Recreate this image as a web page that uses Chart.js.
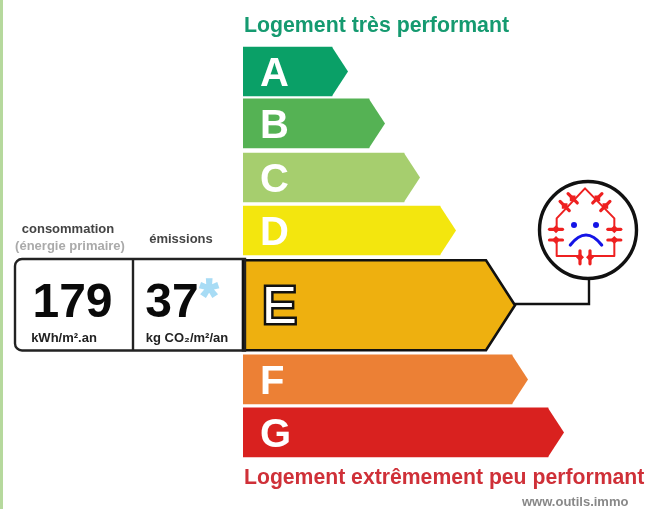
<!DOCTYPE html>
<html><head><meta charset="utf-8">
<style>html,body{margin:0;padding:0;background:#fff}canvas{display:block;filter:blur(0.7px)}</style>
<script src="https://cdn.jsdelivr.net/npm/chart.js@4"></script>
</head><body><canvas id="c" width="645" height="509"></canvas>
<script>
const classLetters = ["A","B","C","D","F","G"];
const classRows = [1,1.98,3,4,6.81,7.81];
const classLengths = [89,126,161,197,269,305];
const classColors = ["#0aa067","#55b254","#a6ce6e","#f3e60e","#ec8035","#d9211f"];
const currentLetter = ["E"];
const currentRow = [5.41];
const currentLength = [243];
const currentColor = "#eeb00f";
const consumption = "179";
const emissions = "37";
const topCaption = "Logement très performant";
const bottomCaption = "Logement extrêmement peu performant";
const FONT = '"Liberation Sans", Arial, sans-serif';

function text(ctx,s,x,y,font,color,align){
  ctx.font=font;ctx.fillStyle=color;ctx.textAlign=align||"center";ctx.textBaseline="alphabetic";ctx.fillText(s,x,y);
}
function arrow(ctx,el,tip){
  const t=el.y-el.height/2,b=el.y+el.height/2,l=el.base;
  ctx.beginPath();ctx.moveTo(l,t);ctx.lineTo(el.x,t);ctx.lineTo(el.x+tip,el.y);ctx.lineTo(el.x,b);ctx.lineTo(l,b);ctx.closePath();
}
function icon(ctx){
  const X=v=>480+v/3,Y=v=>170+v/3;
  ctx.save();
  ctx.lineCap="round";ctx.lineJoin="round";
  ctx.strokeStyle="#ee2020";ctx.fillStyle="#ee2020";ctx.lineWidth=2;
  const poly=p=>{ctx.beginPath();p.forEach((q,i)=>i?ctx.lineTo(X(q[0]),Y(q[1])):ctx.moveTo(X(q[0]),Y(q[1])));ctx.stroke();};
  poly([[230,178],[230,145],[315,55],[403,145],[403,178]]);
  poly([[230,210],[230,258],[300,258]]);
  poly([[330,258],[403,258],[403,210]]);
  const sym=(x,y,a)=>{
    ctx.save();ctx.translate(X(x),Y(y));ctx.rotate(a);
    ctx.lineWidth=3.2;ctx.beginPath();ctx.moveTo(-6.5,0);ctx.lineTo(6.5,0);ctx.stroke();
    ctx.beginPath();ctx.moveTo(-3,-1);ctx.lineTo(3,-1);ctx.lineTo(0,-4);ctx.closePath();ctx.fill();
    ctx.beginPath();ctx.moveTo(-3,1);ctx.lineTo(3,1);ctx.lineTo(0,4);ctx.closePath();ctx.fill();
    ctx.restore();
  };
  sym(228,178,0);sym(228,210,0);sym(403,178,0);sym(403,210,0);
  sym(300,262,Math.PI/2);sym(330,262,Math.PI/2);
  sym(278,85,Math.PI/4);sym(254,108,Math.PI/4);sym(352,85,-Math.PI/4);sym(376,108,-Math.PI/4);
  ctx.fillStyle="#1414e6";ctx.strokeStyle="#1414e6";
  [[282,165],[348,165]].forEach(p=>{ctx.beginPath();ctx.arc(X(p[0]),Y(p[1]),3,0,Math.PI*2);ctx.fill();});
  ctx.lineWidth=3.2;ctx.beginPath();ctx.moveTo(X(271),Y(225));ctx.quadraticCurveTo(X(318),Y(165),X(365),Y(225));ctx.stroke();
  ctx.restore();
}
const decor={id:"decor",
  afterDatasetsDraw(chart){
    const ctx=chart.ctx;ctx.save();
    const m0=chart.getDatasetMeta(0),m1=chart.getDatasetMeta(1);
    m0.data.forEach((el,i)=>{ctx.fillStyle=classColors[i];arrow(ctx,el,16);ctx.fill();
      text(ctx,classLetters[i],260,el.y+15,"bold 40px "+FONT,"#fff","left");});
    const e=m1.data[0];
    ctx.fillStyle=currentColor;arrow(ctx,e,29);ctx.fill();
    ctx.strokeStyle="#111";ctx.lineWidth=2.6;ctx.lineJoin="miter";ctx.stroke();
    ctx.font="52px "+FONT;ctx.textAlign="left";ctx.textBaseline="alphabetic";
    ctx.lineWidth=5;ctx.strokeStyle="#111";ctx.strokeText(currentLetter[0],262,323);
    ctx.fillStyle="#fff";ctx.fillText(currentLetter[0],262,323);
    ctx.lineWidth=2.4;ctx.strokeStyle="#111";ctx.beginPath();ctx.moveTo(e.x+29,304);ctx.lineTo(589,304);ctx.lineTo(589,279);ctx.stroke();
    ctx.lineWidth=3.4;ctx.beginPath();ctx.arc(588,230,48.5,0,Math.PI*2);ctx.fillStyle="#fff";ctx.fill();ctx.stroke();
    icon(ctx);
    ctx.fillStyle="#b6d99d";ctx.fillRect(0,0,3,509);
    ctx.strokeStyle="#222";ctx.lineWidth=2.4;ctx.beginPath();ctx.roundRect(15,259,230,91.5,[7,0,0,7]);ctx.stroke();
    ctx.beginPath();ctx.moveTo(133,259);ctx.lineTo(133,350);ctx.stroke();
    text(ctx,"consommation",68,233,"bold 13px "+FONT,"#444");
    text(ctx,"(énergie primaire)",70,250,"bold 13px "+FONT,"#aaa");
    text(ctx,"émissions",181,243,"bold 13px "+FONT,"#444");
    text(ctx,consumption,72.5,317,"bold 48px "+FONT,"#0a0a0a");
    text(ctx,emissions,172,317,"bold 48px "+FONT,"#0a0a0a");
    ctx.font="bold 48px "+FONT;ctx.textAlign="center";ctx.strokeStyle="#a8dcf5";ctx.lineWidth=1.5;
    ctx.strokeText("*",209,312);
    text(ctx,"*",209,312,"bold 48px "+FONT,"#a8dcf5");
    text(ctx,"kWh/m².an",64,342,"bold 13px "+FONT,"#222");
    text(ctx,"kg CO₂/m²/an",187,342,"bold 13px "+FONT,"#222");
    text(ctx,topCaption,244,32,"bold 21.3px "+FONT,"#159a70","left");
    text(ctx,bottomCaption,244,484,"bold 21.2px "+FONT,"#cf3038","left");
    text(ctx,"www.outils.immo",522,506,"bold 13px "+FONT,"#888","left");
    ctx.restore();
  }};
new Chart(document.getElementById("c"),{
  type:"bar",
  data:{datasets:[
    {label:"Classes",data:classLengths.map((v,i)=>({x:v,y:classRows[i]})),backgroundColor:classColors,barThickness:49,grouped:false},
    {label:"Classe du logement",data:currentLength.map((v,i)=>({x:v,y:currentRow[i]})),backgroundColor:currentColor,barThickness:90,grouped:false}
  ]},
  options:{indexAxis:"y",responsive:false,animation:false,
    layout:{padding:{left:243,right:0,top:0,bottom:0}},
    plugins:{legend:{display:false},title:{display:false},tooltip:{enabled:false}},
    scales:{
      x:{type:"linear",min:0,max:402,display:false},
      y:{type:"linear",reverse:true,offset:false,min:-0.349,max:9.255,display:false}
    }},
  plugins:[decor]
});
</script></body></html>
